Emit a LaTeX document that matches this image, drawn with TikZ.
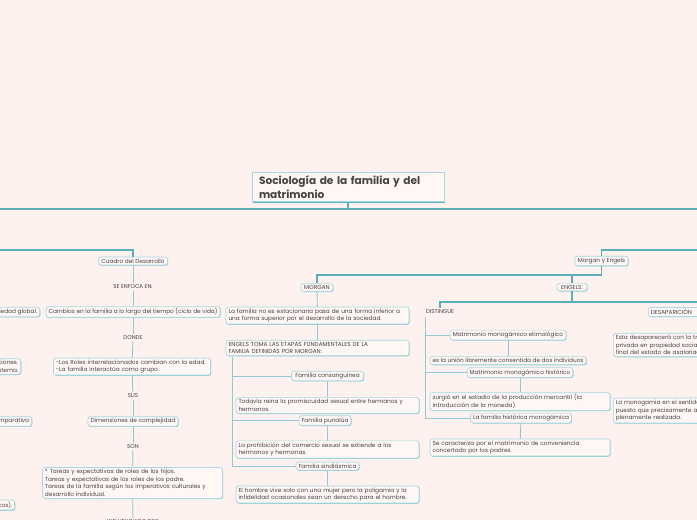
\documentclass[tikz,border=0pt]{standalone}
\usepackage{fontspec}
\setmainfont{Poppins}
\usetikzlibrary{positioning, shadows}

\definecolor{paper}{HTML}{FDF2EF}
\definecolor{boxfill}{HTML}{FFF7F5}
\definecolor{edgeteal}{HTML}{A9D8DD}
\definecolor{shadeteal}{HTML}{8CCAD1}
\definecolor{teal1}{HTML}{5BAFBA}
\definecolor{teal2}{HTML}{8ECBD2}
\definecolor{ink}{HTML}{444444}

\begin{document}
\begin{tikzpicture}[
    x=1pt, y=-1pt,
    bubble/.style={draw=edgeteal, fill=boxfill, rounded corners=2.5pt, line width=0.7pt,
        inner xsep=2.5pt, inner ysep=1.8pt, text=ink, font=\fontsize{5.8}{7.6}\selectfont,
        drop shadow={shadow xshift=0.7pt, shadow yshift=-0.7pt, fill=shadeteal, opacity=1}},
    tag/.style={text=ink, inner sep=1.5pt, font=\fontsize{5.6}{6}\selectfont},
    titlebox/.style={draw=edgeteal, fill=boxfill, line width=0.9pt, inner xsep=7pt, inner ysep=3.5pt,
        text=ink, align=left, text width=178pt, font=\bfseries\fontsize{10.6}{14}\selectfont,
        drop shadow={shadow xshift=1.2pt, shadow yshift=-1.2pt, fill=teal1, opacity=1}},
    bus/.style={draw=teal1, line width=1.6pt},
    main/.style={draw=teal1, line width=1.2pt},
    link/.style={draw=teal2, line width=0.9pt}
]
\useasboundingbox (0,0) rectangle (697,520);
\fill[paper] (0,0) rectangle (697,520);
\clip (0,0) rectangle (697,520);

% root and main bar
\node[titlebox] (root) at (348,187) {Sociología de la familia y del\\matrimonio};
\coordinate (busL) at (-10,209);
\coordinate (busR) at (710,209);
\draw[bus] (busL) -- (busR);
\draw[bus] (root) -- (root |- busR);

% left column: Cuadro del Desarrollo
\node[bubble, minimum width=69pt] (cuadro) at (133,261) {Cuadro del Desarrollo};
\node[tag] (enfoca) at (133,287) {SE ENFOCA EN:};
\node[bubble, minimum width=170pt] (cambios) at (133,312) {Cambios en la familia a lo largo del tiempo (ciclo de vida)};
\node[tag] (donde) at (133,338) {DONDE};
\node[bubble, text width=152pt, align=left] (roles) at (132,366.5) {-Los Roles interrelacionados cambian con la edad.\\-La familia interactúa como grupo.};
\node[tag] (sus) at (133,396) {SUS};
\node[bubble, minimum width=90pt] (dimen) at (133,421.5) {Dimensiones de complejidad};
\node[tag] (son) at (133,447) {SON};
\node[bubble, text width=175pt, align=left] (tareas) at (132.5,483) {* Tareas y expectativas de roles de los hijos.\\* Tareas y expectativas de los roles de los padre.\\* Tareas de la familia según los imperativos culturales y\\desarrollo individual.};
\node[tag] (influ) at (133,522) {INFLUENCIADO POR};

\coordinate (leftin) at (-10,250);
\draw[main] (leftin) -| (cuadro);
\foreach \a/\b in {cuadro/enfoca, enfoca/cambios, cambios/donde, donde/roles,
    roles/sus, sus/dimen, dimen/son, son/tareas, tareas/influ}
  \draw[link] (\a) -- (\b);

% boxes cut by the left edge
\node[bubble, anchor=east] (global) at (40,312) {con la sociedad global.};
\node[bubble, anchor=east, align=right] (inter) at (21,366.5) {sus interacciones.\\dentro del sistema.};
\node[bubble, anchor=east] (compar) at (32,421.5) {Perspectiva comparativa};
\node[bubble, anchor=east] (histcos) at (15,505) {(cambios históricos).};

% right branch: Morgan y Engels
\node[bubble, minimum width=53pt] (moreng) at (601.5,261) {Morgan y Engels};
\coordinate (rightin) at (710,250);
\coordinate (jm) at (602,275);
\draw[main] (rightin) -| (moreng);
\node[bubble, minimum width=32pt] (morgan) at (317,287.5) {MORGAN};
\node[bubble, minimum width=30pt] (engels) at (572,287) {ENGELS:};
\draw[main] (moreng) -- (moreng |- jm) -| (morgan);
\draw[main] (engels |- jm) -- (engels);

% MORGAN
\node[bubble, text width=178pt, align=left] (estac) at (317.5,315.5) {La familia no es estacionaria pasa de una forma inferior a\\una forma superior por el desarrollo de la sociedad.};
\node[bubble, text width=178pt, align=left] (etapas) at (317.5,348) {ENGELS TOMA LAS ETAPAS FUNDAMENTALES DE LA\\FAMILIA DEFINIDAS POR MORGAN:};
\draw[link] (morgan) -- (estac);
\draw[link] (estac) -- (etapas);

\node[bubble, minimum width=72pt] (consang) at (327.5,376) {Familia consanguinea};
\node[bubble, text width=178pt, align=left] (todavia) at (327.5,405.5) {Todavía reina la promiscuidad sexual entre hermanos y\\hermanos.};
\node[bubble, minimum width=42pt] (punalua) at (325,420.5) {Familia punalúa};
\node[bubble, text width=178pt, align=left] (prohib) at (327.5,449.5) {La prohibición del comercio sexual se extiende a los\\hermanos y hermanas.};
\node[bubble, minimum width=62pt] (sindi) at (327.5,466) {Familia sindiásmica};
\node[bubble, text width=178pt, align=left] (hombre) at (327.5,494.5) {El hombre vive solo con una mujer pero la poligamia y la\\infidelidad ocasionales sean un derecho para el hombre.};

\coordinate (spine) at (232,357);
\draw[link] (spine) |- (sindi);
\draw[link] (consang) -- (consang -| spine);
\draw[link] (punalua) -- (punalua -| spine);
\draw[link] (consang) -- (todavia);
\draw[link] (punalua.south -| prohib) -- (prohib);
\draw[link] (sindi) -- (hombre);

% ENGELS
\coordinate (jd) at (441,302);
\node[tag] (distingue) at (440,312) {DISTINGUE};
\node[bubble, anchor=west, text width=105pt, align=left] (desap) at (648,312) {DESAPARICIÓN};
\draw[main] (engels) -- (engels |- jd);
\draw[main] (distingue) -- (distingue |- jd) -| (desap);

\node[bubble, minimum width=116pt] (etimo) at (508,335) {Matrimonio monogámico etimológico};
\node[bubble, minimum width=156pt] (union) at (508,360.5) {es la unión libremente consentida de dos individuos};
\node[bubble, minimum width=104pt] (histo) at (520,372.5) {Matrimonio monogámico histórico};
\node[bubble, text width=175pt, align=left] (surgio) at (520,401.5) {surgió en el estadio de la producción mercantil (la\\introducción de la moneda).};
\node[bubble, minimum width=100pt] (famhist) at (521,418) {La familia histórica monogámica};
\node[bubble, text width=175pt, align=left] (conven) at (520,447.5) {Se caracteriza por el matrimonio de conveniencia\\concertado por los padres.};

\coordinate (spineR) at (425,317);
\draw[link] (spineR) |- (famhist);
\draw[link] (etimo) -- (etimo -| spineR);
\draw[link] (histo) -- (histo -| spineR);
\draw[link] (etimo) -- (union);
\draw[link] (histo) -- (surgio);
\draw[link] (famhist) -- (conven);

% boxes cut by the right edge
\node[bubble, anchor=west, text width=190pt, align=left] (esta) at (613,345) {Esta desaparecerá con la transformación de la propiedad\\privada en propiedad social y con el\\final del estado de asalariado.};
\node[bubble, anchor=west, text width=190pt, align=left] (monog) at (613,410.5) {La monogamia en el sentido moderno se realizará\\puesto que precisamente a partir de entonces será\\plenamente realizada.};
\draw[link] (desap) -- (desap |- esta.north);
\end{tikzpicture}
\end{document}
